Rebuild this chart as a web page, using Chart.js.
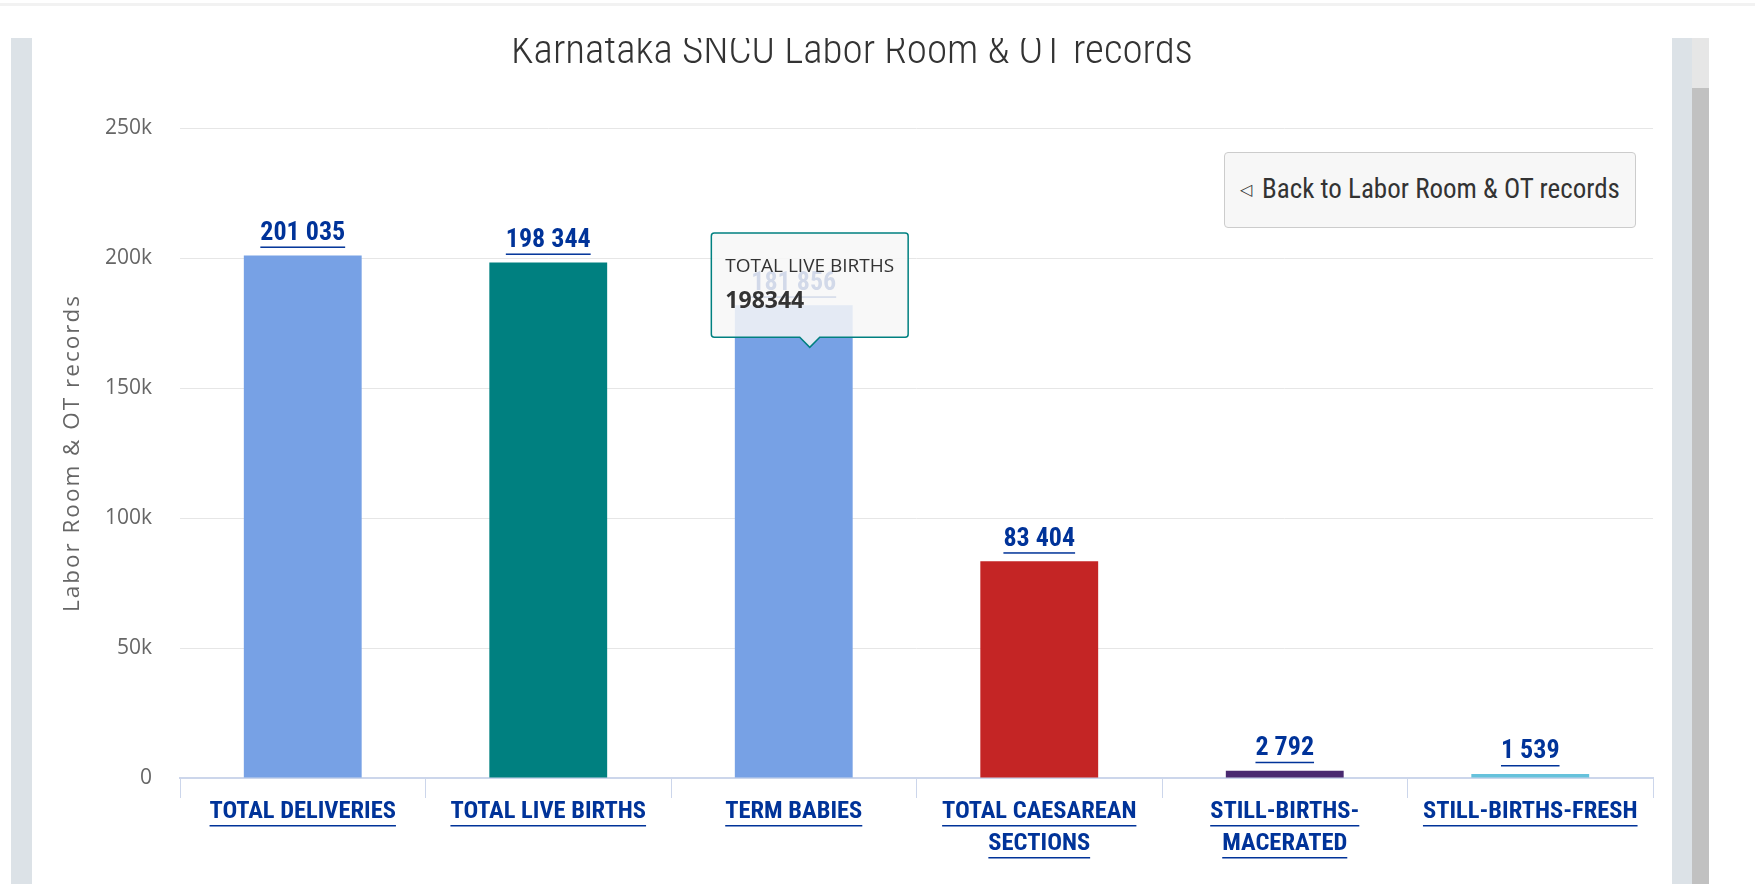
<!DOCTYPE html>
<html>
<head>
<meta charset="utf-8">
<title>Karnataka SNCU Labor Room & OT records</title>
<script src="https://cdn.jsdelivr.net/npm/chart.js@4.4.0/dist/chart.umd.min.js"></script>
<style>
  html, body { margin: 0; padding: 0; background: #fff; overflow: hidden; }
  #wrap { position: absolute; left: 0; top: 0; width: 1762px; height: 884px; }
  .cover { position: absolute; left: 0; top: 0; width: 1762px; height: 38px; background: #fff; z-index: 2; }
  .topline { position: absolute; left: 0; top: 3px; width: 1755px; height: 3px; background: #f2f2f2; z-index: 3; }
  .panel { position: absolute; top: 38px; height: 846px; background: #dce2e7; z-index: 2; }
  .scroll { position: absolute; left: 1692px; top: 38px; width: 17px; height: 846px; background: #c1c1c1; z-index: 2; }
  .scroll div { height: 50px; background: #e6e6e6; }
  #back {
    position: absolute; left: 1224px; top: 152px; width: 412px; height: 76px;
    box-sizing: border-box; background: #f7f7f7; border: 1px solid #cccccc; border-radius: 4px;
    font-family: "Roboto Condensed", "Open Sans", sans-serif; font-stretch: 75%;
    font-size: 27px; color: #333; text-align: center; line-height: 72px; white-space: nowrap; z-index: 2;
  }
  #back span { font-size: 16px; vertical-align: 3px; margin-right: 10px; font-stretch: 100%; }
</style>
</head>
<body>
<div id="wrap"><canvas id="chartLabor" width="1762" height="884"></canvas></div>
<div class="cover"></div>
<div class="topline"></div>
<div class="panel" style="left:11px; width:21px;"></div>
<div class="panel" style="left:1672px; width:20px;"></div>
<div class="scroll"><div></div></div>
<div id="back"><span>&#9665;</span>Back to Labor Room &amp; OT records</div>

<script>
const categories = [
    'TOTAL DELIVERIES',
    'TOTAL LIVE BIRTHS',
    'TERM BABIES',
    ['TOTAL CAESAREAN', 'SECTIONS'],
    ['STILL-BIRTHS-', 'MACERATED'],
    'STILL-BIRTHS-FRESH'
];
const records = [201035, 198344, 181856, 83404, 2792, 1539];
const barColors = ['#77a1e5', '#008080', '#77a1e5', '#c42525', '#492970', '#66c2dc'];
const yTickLabels = ['0', '50k', '100k', '150k', '200k', '250k'];

const NARROW = '"Roboto Condensed", "Open Sans", sans-serif';
const SANS = '"Open Sans", "Noto Sans", sans-serif';
const LINK = '#003399';
const LABEL_SIZE = 24.5;
const LABEL_LH = 32;
const LABEL_PAD = -2;

function fmt(v) {
    return String(v).replace(/\B(?=(\d{3})+(?!\d))/g, ' ');
}

// tooltip sits over the third bar, as in the screenshot
Chart.Tooltip.positioners.overTerm = function () {
    const bar = this.chart.getDatasetMeta(0).data[2];
    return { x: bar.x + 16, y: bar.y + 42, xAlign: 'center', yAlign: 'bottom' };
};

const linkLabels = {
    id: 'linkLabels',
    afterDatasetsDraw(chart) {
        const ctx = chart.ctx;
        const meta = chart.getDatasetMeta(0);
        ctx.save();
        ctx.fillStyle = LINK;
        ctx.textAlign = 'center';
        ctx.textBaseline = 'middle';

        // value labels above bars
        ctx.font = 'bold condensed 26px ' + NARROW;
        meta.data.forEach((bar, i) => {
            const text = fmt(records[i]);
            const y = bar.y - 22;
            ctx.fillText(text, bar.x, y);
            const w = ctx.measureText(text).width;
            ctx.fillRect(bar.x - w / 2, y + 13, w, 1.5);
        });

        // underline the category labels
        const xs = chart.scales.x;
        ctx.font = 'bold condensed ' + LABEL_SIZE + 'px ' + NARROW;
        categories.forEach((cat, i) => {
            const lines = Array.isArray(cat) ? cat : [cat];
            const x = xs.getPixelForTick(i);
            lines.forEach((line, k) => {
                const y = xs.top + 20 + LABEL_PAD + LABEL_LH / 2 + k * LABEL_LH;
                const w = ctx.measureText(line).width;
                ctx.fillRect(x - w / 2, y + 13, w, 1.5);
            });
        });
        ctx.restore();
    }
};

const ctx = document.getElementById('chartLabor').getContext('2d');
const chart = new Chart(ctx, {
    type: 'bar',
    data: {
        labels: categories,
        datasets: [
            {
                label: 'Labor Room & OT records',
                data: records,
                backgroundColor: barColors,
                hoverBackgroundColor: barColors,
                borderWidth: 0,
                barPercentage: 0.48,
                categoryPercentage: 1
            }
        ]
    },
    options: {
        responsive: false,
        animation: false,
        events: [],
        layout: {
            padding: { left: 51, right: 109, top: 0, bottom: 0 }
        },
        scales: {
            x: {
                grid: {
                    drawOnChartArea: false,
                    drawTicks: true,
                    tickLength: 20,
                    color: '#ccd6eb'
                },
                border: { color: '#ccd6eb', width: 2 },
                ticks: {
                    color: LINK,
                    padding: LABEL_PAD,
                    maxRotation: 0,
                    autoSkip: false,
                    font: { family: NARROW, size: LABEL_SIZE, weight: 'bold condensed', lineHeight: LABEL_LH / LABEL_SIZE }
                },
                afterFit(scale) { scale.height = 106; }
            },
            y: {
                min: 0,
                max: 250000,
                grid: { color: '#e6e6e6', drawTicks: false },
                border: { display: false },
                ticks: {
                    stepSize: 50000,
                    padding: 28,
                    color: '#666',
                    font: { family: SANS, size: 21 },
                    callback: (value, index) => yTickLabels[index]
                },
                title: {
                    display: true,
                    text: 'Labor Room & OT records',
                    color: '#666',
                    padding: { top: 8, bottom: 8 },
                    font: { family: SANS, size: 22.5 }
                },
                afterFit(scale) { scale.width = 129; }
            }
        },
        plugins: {
            legend: { display: false },
            title: {
                display: true,
                text: 'Karnataka SNCU Labor Room & OT records',
                color: '#333',
                padding: { top: 28, bottom: 51 },
                font: { family: NARROW, size: 41, weight: '300 condensed' }
            },
            tooltip: {
                position: 'overTerm',
                backgroundColor: 'rgba(247,247,247,0.85)',
                borderColor: '#008080',
                borderWidth: 1.5,
                cornerRadius: 3,
                caretSize: 10,
                caretPadding: 0,
                displayColors: false,
                padding: { top: 22, bottom: 22, left: 14, right: 14 },
                titleColor: '#333',
                bodyColor: '#333',
                titleMarginBottom: 10,
                titleFont: { family: SANS, size: 19, weight: 'normal' },
                bodyFont: { family: SANS, size: 23, weight: 'bold' },
                callbacks: {
                    title: items => categories[items[0].dataIndex],
                    label: item => String(item.raw)
                }
            }
        }
    },
    plugins: [linkLabels]
});

// the axis title in the original is letter-spaced
const yScale = chart.scales.y;
const drawYTitle = yScale.drawTitle.bind(yScale);
yScale.drawTitle = function () {
    const c = this.ctx;
    c.save();
    c.letterSpacing = '2px';
    drawYTitle();
    c.restore();
};

chart.tooltip.setActiveElements([{ datasetIndex: 0, index: 1 }], { x: 0, y: 0 });
chart.update();
</script>
</body>
</html>
